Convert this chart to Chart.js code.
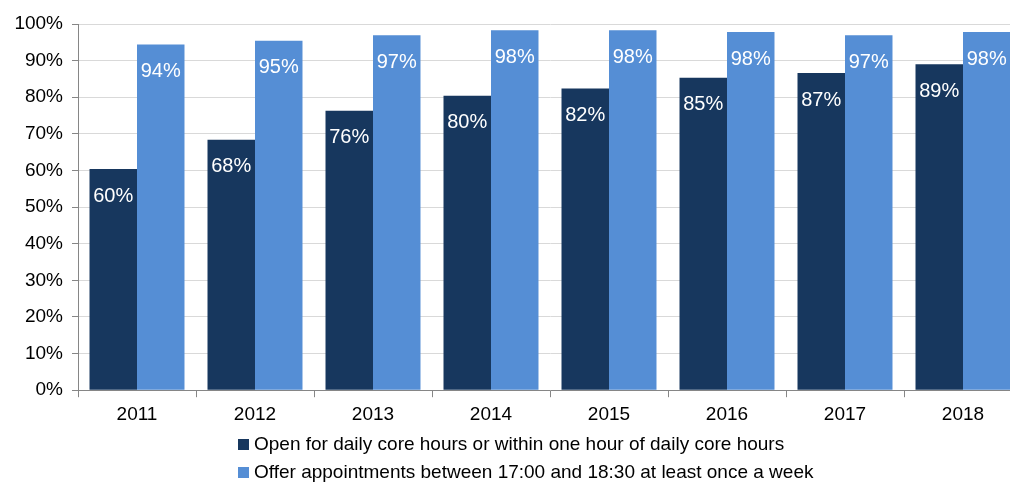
<!DOCTYPE html>
<html>
<head>
<meta charset="utf-8">
<script src="https://cdn.jsdelivr.net/npm/chart.js@4/dist/chart.umd.min.js"></script>
<style>
  body { margin: 0; overflow: hidden; background: #fff; font-family: "Liberation Sans", Arial, sans-serif; }
  #wrap { position: relative; width: 1022px; height: 432px; }
  #legend { position: absolute; left: 238px; top: 430px; font-size: 19px; color: #000; }
  #legend div { height: 28px; line-height: 28px; white-space: nowrap; }
  #legend span { display: inline-block; width: 11px; height: 11px; margin-right: 5px; vertical-align: 0px; }
</style>
</head>
<body>
<div id="wrap"><canvas id="grafico" width="1022" height="432"></canvas></div>
<div id="legend"></div>
<script>
const anos = ['2011', '2012', '2013', '2014', '2015', '2016', '2017', '2018'];
const horarioNucleo = [60.4, 68.4, 76.3, 80.4, 82.4, 85.3, 86.6, 89.0];
const consultasNoite = [94.4, 95.4, 96.9, 98.3, 98.3, 97.8, 96.9, 97.8];
const nomesSeries = [
    'Open for daily core hours or within one hour of daily core hours',
    'Offer appointments between 17:00 and 18:30 at least once a week'
];
const cores = ['#17375e', '#558ed5'];

const rotulosBarras = {
    id: 'rotulosBarras',
    afterDatasetsDraw(chart) {
        const ctx = chart.ctx;
        ctx.save();
        ctx.fillStyle = '#fff';
        ctx.font = '20px "Liberation Sans", Arial, sans-serif';
        ctx.textAlign = 'center';
        ctx.textBaseline = 'middle';
        chart.data.datasets.forEach(function (ds, i) {
            chart.getDatasetMeta(i).data.forEach(function (bar, j) {
                ctx.fillText(Math.round(ds.data[j]) + '%', bar.x, bar.y + 27);
            });
        });
        ctx.restore();
    }
};

const ctx = document.getElementById('grafico').getContext('2d');
const myChart = new Chart(ctx, {
    type: 'bar',
    data: {
        labels: anos,
        datasets: [{
            label: nomesSeries[0],
            data: horarioNucleo,
            backgroundColor: cores[0]
        }, {
            label: nomesSeries[1],
            data: consultasNoite,
            backgroundColor: cores[1]
        }]
    },
    options: {
        responsive: false,
        animation: false,
        layout: { padding: { top: 24, right: 0, left: 0, bottom: 0 } },
        plugins: {
            legend: { display: false },
            tooltip: { enabled: false }
        },
        datasets: {
            bar: { categoryPercentage: 0.805, barPercentage: 1.0 }
        },
        scales: {
            x: {
                grid: { display: true, drawOnChartArea: false, drawTicks: true, tickLength: 7, tickColor: '#868686', offset: true },
                border: { color: '#868686' },
                ticks: { color: '#000', maxRotation: 0, font: { size: 19, family: '"Liberation Sans", Arial, sans-serif' }, padding: 6 }
            },
            y: {
                min: 0,
                max: 100,
                afterFit: function (s) { s.width = 78; },
                grid: { color: '#d9d9d9', tickColor: '#868686', tickLength: 6 },
                border: { color: '#868686' },
                ticks: {
                    stepSize: 10,
                    color: '#000',
                    padding: 9,
                    font: { size: 19, family: '"Liberation Sans", Arial, sans-serif' },
                    callback: function (v) { return v + '%'; }
                }
            }
        }
    },
    plugins: [rotulosBarras]
});

const legenda = document.getElementById('legend');
nomesSeries.forEach(function (nome, i) {
    legenda.innerHTML += '<div><span style="background:' + cores[i] + '"></span>' + nome + '</div>';
});
</script>
</body>
</html>
